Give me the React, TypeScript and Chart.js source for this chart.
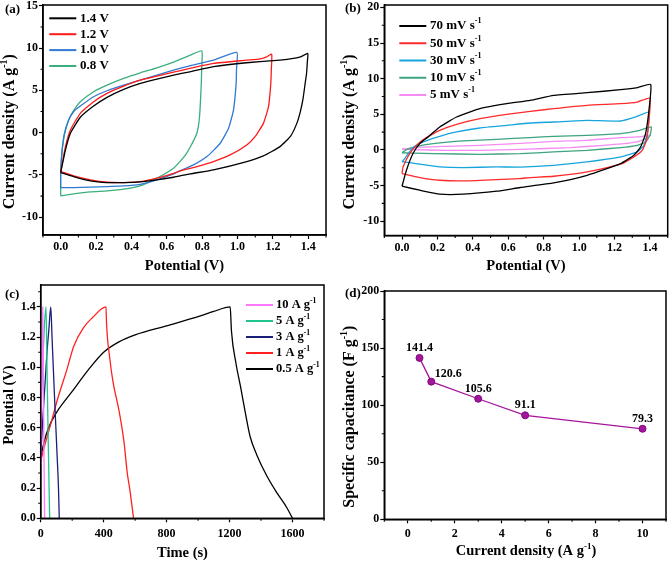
import React, { useEffect, useRef } from "react";
import { Chart, registerables } from "chart.js";

Chart.register(...registerables);

const FONT = '"Liberation Serif", "Times New Roman", Times, serif';

// ---------------- (a) CV at different potential windows ----------------
const cvA_14V: number[][] = [
  [0, -4.72], [0.027, -2.04], [0.055, -0.07], [0.111, 1.82], [0.186, 3.15], [0.262, 4.18],
  [0.356, 5.12], [0.45, 5.83], [0.544, 6.34], [0.638, 6.81], [0.73, 7.2], [0.864, 7.8],
  [1.05, 8.27], [1.24, 8.58], [1.316, 8.78], [1.36, 9.0], [1.397, 9.37],
  [1.395, 8.5], [1.39, 7.0], [1.382, 5.8], [1.37, 4.0], [1.355, 2.5], [1.335, 1.1], [1.3, -0.4],
  [1.24, -1.65], [1.146, -2.75], [1.052, -3.42], [0.864, -4.4], [0.732, -4.87], [0.638, -5.27],
  [0.544, -5.58], [0.45, -5.82], [0.356, -5.9], [0.262, -5.9], [0.168, -5.7], [0.073, -5.19], [0, -4.72],
];
const cvA_12V: number[][] = [
  [0, -4.6], [0.027, -1.65], [0.055, 0.32], [0.111, 2.29], [0.186, 3.66], [0.262, 4.65],
  [0.356, 5.51], [0.45, 6.22], [0.544, 6.7], [0.638, 7.15], [0.73, 7.6], [0.864, 8.19],
  [1.05, 8.58], [1.128, 8.74], [1.165, 8.97], [1.193, 9.29],
  [1.191, 7.5], [1.188, 5.83], [1.175, 3.07], [1.146, 1.1], [1.099, -0.47], [1.052, -1.45],
  [0.958, -2.63], [0.864, -3.42], [0.77, -4.01], [0.676, -4.52], [0.638, -4.8], [0.544, -5.38],
  [0.45, -5.8], [0.356, -5.9], [0.262, -5.86], [0.168, -5.58], [0.073, -5.11], [0, -4.6],
];
const cvA_10V: number[][] = [
  [0, -6.49], [0, -4.72], [0.008, -2.04], [0.021, -0.07], [0.045, 1.5], [0.073, 2.48], [0.111, 3.15],
  [0.186, 4.25], [0.262, 4.96], [0.356, 5.63], [0.45, 6.22], [0.544, 6.81], [0.638, 7.4],
  [0.73, 7.9], [0.864, 8.58], [0.996, 9.49],
  [0.994, 7.5], [0.992, 5.83], [0.977, 2.68], [0.949, 0.52], [0.902, -1.25], [0.827, -2.83],
  [0.751, -3.81], [0.676, -4.48], [0.638, -4.87], [0.544, -5.58], [0.45, -6.1], [0.356, -6.3],
  [0.262, -6.37], [0.168, -6.45], [0.073, -6.49], [0, -6.49],
];
const cvA_08V: number[][] = [
  [0, -7.47], [0, -4.72], [0.008, -2.2], [0.021, -0.3], [0.045, 1.5], [0.073, 2.6], [0.111, 3.66],
  [0.186, 4.84], [0.262, 5.63], [0.356, 6.42], [0.45, 7.08], [0.544, 7.67], [0.638, 8.35],
  [0.73, 9.15], [0.798, 9.68],
  [0.797, 7.5], [0.795, 5.83], [0.785, 1.89], [0.77, -0.07], [0.74, -1.4], [0.71, -2.5],
  [0.675, -3.4], [0.638, -4.2], [0.544, -5.38], [0.45, -6.29], [0.356, -6.68], [0.262, -6.88],
  [0.168, -7.0], [0.073, -7.24], [0, -7.47],
];
const legendA = ["1.4 V", "1.2 V", "1.0 V", "0.8 V"];
const aXTicks = [0, 0.2, 0.4, 0.6, 0.8, 1.0, 1.2, 1.4];
const aXMinor = [-0.1, 0.1, 0.3, 0.5, 0.7, 0.9, 1.1, 1.3, 1.5];
const aYTicks = [-10, -5, 0, 5, 10, 15];
const aYMinor = [-7.5, -2.5, 2.5, 7.5, 12.5];

// ---------------- (b) CV at different scan rates ----------------
const cvB_70: number[][] = [
  [0, -5.09], [0.025, -2.85], [0.062, -0.51], [0.1, 0.89], [0.147, 1.82], [0.213, 3.22],
  [0.308, 4.62], [0.44, 5.79], [0.591, 6.49], [0.724, 6.95], [0.856, 7.65], [1.045, 8.03],
  [1.234, 8.45], [1.33, 8.75], [1.404, 9.19],
  [1.394, 5.55], [1.375, 2.29], [1.347, 0.42], [1.309, -0.75], [1.234, -1.91], [1.045, -3.55],
  [0.856, -4.62], [0.667, -5.27], [0.535, -5.79], [0.346, -6.2], [0.213, -6.2], [0.1, -5.65], [0, -5.09],
];
const cvB_50: number[][] = [
  [0, -3.31], [0.006, -2.38], [0.043, -0.51], [0.091, 0.89], [0.138, 1.73], [0.213, 2.75],
  [0.308, 3.59], [0.44, 4.39], [0.591, 4.99], [0.724, 5.41], [0.856, 5.79], [1.045, 6.25],
  [1.234, 6.49], [1.328, 6.72], [1.4, 7.28],
  [1.394, 4.15], [1.38, 1.35], [1.356, -0.05], [1.309, -0.98], [1.234, -2.0], [1.045, -3.08],
  [0.856, -3.69], [0.724, -3.87], [0.667, -4.01], [0.535, -4.15], [0.346, -4.34], [0.213, -4.25],
  [0.1, -3.87], [0, -3.31],
];
const cvB_30: number[][] = [
  [0, -1.68], [0.015, -1.21], [0.062, 0.33], [0.119, 1.12], [0.213, 1.91], [0.308, 2.52],
  [0.44, 3.08], [0.591, 3.45], [0.724, 3.78], [0.856, 3.92], [1.045, 4.15], [1.234, 4.06],
  [1.328, 4.71], [1.394, 5.32],
  [1.388, 2.75], [1.366, 0.65], [1.328, -0.28], [1.234, -0.98], [1.045, -1.68], [0.856, -2.15],
  [0.667, -2.4], [0.535, -2.38], [0.346, -2.47], [0.213, -2.38], [0.1, -2.0], [0.015, -1.68], [0, -1.68],
];
const cvB_10: number[][] = [
  [0, -0.4], [0.025, 0.05], [0.081, 0.51], [0.176, 0.89], [0.346, 1.26], [0.535, 1.49],
  [0.724, 1.73], [0.856, 1.91], [1.045, 2.05], [1.234, 2.29], [1.328, 2.66], [1.407, 3.22],
  [1.4, 2.05], [1.375, 1.12], [1.328, 0.65], [1.234, 0.33], [1.045, -0.05], [0.856, -0.28],
  [0.667, -0.51], [0.44, -0.61], [0.18, -0.51], [0.062, -0.45], [0, -0.4],
];
const cvB_5: number[][] = [
  [0, 0.05], [0.062, 0.33], [0.251, 0.51], [0.44, 0.65], [0.724, 1.0], [0.856, 1.21],
  [1.045, 1.35], [1.234, 1.73], [1.328, 1.82], [1.4, 2.05],
  [1.366, 1.45], [1.29, 0.98], [1.139, 0.65], [0.95, 0.33], [0.667, 0.09], [0.44, -0.05],
  [0.251, -0.05], [0.062, 0.05], [0, 0.19],
];
const legendB = ["70 mV s^-1", "50 mV s^-1", "30 mV s^-1", "10 mV s^-1", "5 mV s^-1"];
const bXTicks = [0, 0.2, 0.4, 0.6, 0.8, 1.0, 1.2, 1.4];
const bXMinor = [-0.1, 0.1, 0.3, 0.5, 0.7, 0.9, 1.1, 1.3, 1.5];
const bYTicks = [-10, -5, 0, 5, 10, 15, 20];
const bYMinor = [-7.5, -2.5, 2.5, 7.5, 12.5, 17.5];

// ---------------- (c) GCD curves ----------------
const gcd10: number[][] = [[0, 0.35], [5, 0.8], [9, 1.15], [13, 1.4], [17, 0.9], [21, 0.4], [25, 0]];
const gcd5: number[][] = [[0, 0.65], [8, 0.9], [18, 1.15], [25, 1.3], [34, 1.4], [40, 1.0], [48, 0.5], [57, 0]];
const gcd3: number[][] = [
  [0, 0.4], [10, 0.6], [25, 0.85], [40, 1.1], [52, 1.25], [64, 1.4], [72, 1.2], [90, 0.75],
  [105, 0.4], [113, 0.2], [118, 0],
];
const gcd1: number[][] = [
  [0, 0.38], [30, 0.5], [60, 0.61], [110, 0.8], [165, 0.98], [210, 1.14], [270, 1.26],
  [330, 1.33], [415, 1.4], [418, 1.3], [440, 1.05], [460, 0.9], [500, 0.7], [530, 0.5],
  [550, 0.3], [565, 0.2], [590, 0],
];
const gcd05: number[][] = [
  [0, 0.4], [20, 0.5], [50, 0.6], [100, 0.7], [200, 0.84], [300, 0.98], [400, 1.1], [500, 1.17],
  [600, 1.215], [800, 1.275], [1000, 1.335], [1100, 1.37], [1204, 1.4], [1212, 1.24], [1240, 1.03],
  [1270, 0.87], [1300, 0.7], [1331, 0.54], [1373, 0.42], [1437, 0.28], [1500, 0.17], [1564, 0.07], [1600, 0],
];
const legendC = ["10 A g^-1", "5 A g^-1", "3 A g^-1", "1 A g^-1", "0.5 A g^-1"];
const cXTicks = [0, 400, 800, 1200, 1600];
const cXMinor = [200, 600, 1000, 1400, 1800];
const cYTicks = [0, 0.2, 0.4, 0.6, 0.8, 1.0, 1.2, 1.4];
const cYMinor = [0.1, 0.3, 0.5, 0.7, 0.9, 1.1, 1.3, 1.5];

// ---------------- (d) specific capacitance ----------------
const currentDensity = [0.5, 1, 3, 5, 10];
const capacitance = [141.4, 120.6, 105.6, 91.1, 79.3];
const dXTicks = [0, 2, 4, 6, 8, 10];
const dXMinor = [-1, 1, 3, 5, 7, 9, 11];
const dYTicks = [0, 50, 100, 150, 200];
const dYMinor = [25, 75, 125, 175];

// ---------------- helpers ----------------
function drawRich(ctx: CanvasRenderingContext2D, text: string, x: number, y: number, size: number, align: string) {
  const parts = text.split("^");
  const sup = size * 0.62;
  const fonts = parts.map((_, i) => `bold ${i % 2 ? sup : size}px ${FONT}`);
  const widths = parts.map((p, i) => {
    ctx.font = fonts[i];
    return ctx.measureText(p).width;
  });
  const total = widths.reduce((a, b) => a + b, 0);
  let cx = align === "center" ? x - total / 2 : x;
  ctx.textAlign = "left";
  ctx.textBaseline = "middle";
  ctx.fillStyle = "#000";
  parts.forEach((p, i) => {
    ctx.font = fonts[i];
    ctx.fillText(p, cx, i % 2 ? y - size * 0.36 : y);
    cx += widths[i];
  });
}

const toPts = (arr: number[][]) => arr.map(([x, y]) => ({ x, y }));

const decorPlugin = {
  id: "decor",
  afterDraw(chart: any) {
    const spec = chart.options.plugins.decor.spec;
    const ctx: CanvasRenderingContext2D = chart.ctx;
    const a = chart.chartArea;
    const xs = chart.scales.x;
    const ys = chart.scales.y;
    ctx.save();
    ctx.strokeStyle = "#000";
    ctx.lineWidth = 1.5;
    ctx.strokeRect(a.left, a.top, a.right - a.left, a.bottom - a.top);
    ctx.lineWidth = 1.1;
    ctx.beginPath();
    spec.x.minor.forEach((v: number) => {
      const p = xs.getPixelForValue(v);
      ctx.moveTo(p, a.bottom);
      ctx.lineTo(p, a.bottom + 2.5);
    });
    spec.y.minor.forEach((v: number) => {
      const p = ys.getPixelForValue(v);
      ctx.moveTo(a.left, p);
      ctx.lineTo(a.left - 2.5, p);
    });
    ctx.stroke();
    drawRich(ctx, spec.xTitle.text, spec.xTitle.x, spec.xTitle.y, spec.xTitle.size, "center");
    ctx.save();
    ctx.translate(spec.yTitle.x, spec.yTitle.y);
    ctx.rotate(-Math.PI / 2);
    drawRich(ctx, spec.yTitle.text, 0, 0, spec.yTitle.size, "center");
    ctx.restore();
    drawRich(ctx, spec.letter.text, spec.letter.x, spec.letter.y, 13, "left");
    if (spec.legend) {
      const L = spec.legend;
      spec.legend.order.forEach((di: number, row: number) => {
        const ds = chart.data.datasets[di];
        const y = L.y + row * L.dy;
        ctx.strokeStyle = ds.borderColor;
        ctx.lineWidth = 2;
        ctx.beginPath();
        ctx.moveTo(L.x, y);
        ctx.lineTo(L.x + L.len, y);
        ctx.stroke();
        drawRich(ctx, ds.label, L.textX, y, L.size || 13, "left");
      });
    }
    if (spec.pointLabels) {
      const meta = chart.getDatasetMeta(0);
      meta.data.forEach((el: any, i: number) => {
        const v = chart.data.datasets[0].data[i].y;
        const shift = i === 1 ? 17 : 0;
        drawRich(ctx, v.toFixed(1), el.x + shift, el.y - (i === 1 ? 8 : 10), 12, "center");
      });
    }
    ctx.restore();
  },
};

function axisOpts(ax: any, isX: boolean, size: number) {
  return {
    type: "linear",
    min: ax.min,
    max: ax.max,
    afterBuildTicks: (s: any) => {
      s.ticks = ax.ticks.map((v: number) => ({ value: v }));
    },
    afterFit: (s: any) => {
      if (isX) s.height = size;
      else s.width = size;
      s.paddingTop = 0;
      s.paddingBottom = 0;
      s.paddingLeft = 0;
      s.paddingRight = 0;
    },
    ticks: {
      autoSkip: false,
      maxRotation: 0,
      minRotation: 0,
      padding: ax.pad,
      color: "#000",
      font: { family: FONT, size: 12, weight: "bold" },
      callback: (v: number) => ax.fmt(v),
    },
    grid: {
      display: true,
      drawOnChartArea: false,
      drawTicks: true,
      tickLength: 4,
      tickWidth: 1.2,
      tickColor: "#000",
      color: "#000",
    },
    border: { display: true, color: "#000", width: 1.5 },
  };
}

function buildConfig(spec: any) {
  const A = spec.area;
  return {
    type: "scatter",
    data: {
      datasets: spec.series.map((s: any) => ({
        label: s.label,
        data: s.data,
        borderColor: s.color,
        backgroundColor: s.color,
        showLine: true,
        borderWidth: s.width || 1.3,
        pointRadius: s.pointRadius || 0,
        pointBackgroundColor: s.color,
        pointBorderColor: s.pointBorder || s.color,
        pointBorderWidth: 1,
        tension: spec.tension || 0,
        cubicInterpolationMode: spec.monotone ? "monotone" : "default",
      })),
    },
    options: {
      responsive: false,
      animation: false,
      devicePixelRatio: 1,
      events: [],
      layout: { padding: { left: 0, top: A.t, right: spec.w - A.r, bottom: 0 } },
      plugins: { legend: { display: false }, tooltip: { enabled: false }, decor: { spec } },
      scales: {
        x: axisOpts(spec.x, true, spec.h - A.b),
        y: axisOpts(spec.y, false, A.l),
      },
    },
    plugins: [decorPlugin],
  };
}

const f1 = (v: number) => v.toFixed(1);
const f0 = (v: number) => String(v);

const specA = {
  left: 0, top: 0, w: 335, h: 280,
  area: { l: 43, t: 5, r: 326, b: 235 },
  tension: 0.15,
  x: { min: -0.1, max: 1.5, ticks: aXTicks, minor: aXMinor, fmt: f1, pad: 1 },
  y: { min: -12.1, max: 15.1, ticks: aYTicks, minor: aYMinor, fmt: f0, pad: 1 },
  series: [
    { label: legendA[0], data: toPts(cvA_14V), color: "#000000" },
    { label: legendA[1], data: toPts(cvA_12V), color: "#ff1a1a" },
    { label: legendA[2], data: toPts(cvA_10V), color: "#2f7ad0" },
    { label: legendA[3], data: toPts(cvA_08V), color: "#3cae7c" },
  ],
  legend: { x: 49.3, len: 27, textX: 80, y: 18.3, dy: 15.9, order: [0, 1, 2, 3] },
  xTitle: { text: "Potential (V)", x: 184.5, y: 266.7, size: 14.5 },
  yTitle: { text: "Current density (A g^-1^)", x: 10, y: 131.7, size: 16 },
  letter: { text: "(a)", x: 5, y: 10 },
};

const specB = {
  left: 335, top: 0, w: 336, h: 280,
  area: { l: 49.3, t: 5, r: 332.7, b: 235.5 },
  tension: 0.15,
  x: { min: -0.1, max: 1.5, ticks: bXTicks, minor: bXMinor, fmt: f1, pad: 1 },
  y: { min: -12, max: 20.33, ticks: bYTicks, minor: bYMinor, fmt: f0, pad: 1 },
  series: [
    { label: legendB[0], data: toPts(cvB_70), color: "#000000" },
    { label: legendB[1], data: toPts(cvB_50), color: "#ff2a2a" },
    { label: legendB[2], data: toPts(cvB_30), color: "#16a4dc" },
    { label: legendB[3], data: toPts(cvB_10), color: "#3ea380" },
    { label: legendB[4], data: toPts(cvB_5), color: "#f58cf5" },
  ],
  legend: { x: 64.3, len: 27, textX: 95, y: 26, dy: 17.25, order: [0, 1, 2, 3, 4] },
  xTitle: { text: "Potential (V)", x: 191, y: 266.7, size: 14.5 },
  yTitle: { text: "Current density (A g^-1^)", x: 15, y: 132, size: 16 },
  letter: { text: "(b)", x: 10, y: 8.3 },
};

const specC = {
  left: 0, top: 280, w: 335, h: 282,
  area: { l: 40.7, t: 5, r: 324, b: 238.3 },
  monotone: true,
  x: { min: 0, max: 1800, ticks: cXTicks, minor: cXMinor, fmt: f0, pad: 4 },
  y: { min: 0, max: 1.545, ticks: cYTicks, minor: cYMinor, fmt: f1, pad: 1 },
  series: [
    { label: legendC[0], data: toPts(gcd10), color: "#ff77ff" },
    { label: legendC[1], data: toPts(gcd5), color: "#22c48e" },
    { label: legendC[2], data: toPts(gcd3), color: "#1c1f78" },
    { label: legendC[3], data: toPts(gcd1), color: "#ff2020" },
    { label: legendC[4], data: toPts(gcd05), color: "#000000" },
  ],
  legend: { x: 246, len: 27, textX: 276, y: 25, dy: 16, order: [0, 1, 2, 3, 4], size: 12.5 },
  xTitle: { text: "Time (s)", x: 182.5, y: 273.3, size: 14.5 },
  yTitle: { text: "Potential (V)", x: 9.3, y: 125, size: 14.5 },
  letter: { text: "(c)", x: 5, y: 15 },
};

const specD = {
  left: 335, top: 280, w: 336, h: 282,
  area: { l: 49.3, t: 11, r: 332.7, b: 239.3 },
  x: { min: -1, max: 11, ticks: dXTicks, minor: dXMinor, fmt: f0, pad: 3 },
  y: { min: 0, max: 200, ticks: dYTicks, minor: dYMinor, fmt: f0, pad: 1 },
  series: [
    {
      label: "Specific capacitance",
      data: currentDensity.map((x, i) => ({ x, y: capacitance[i] })),
      color: "#a5169f",
      pointRadius: 3.5,
      pointBorder: "#7a0a78",
    },
  ],
  pointLabels: true,
  xTitle: { text: "Current density (A g^-1^)", x: 191, y: 271.7, size: 14.5 },
  yTitle: { text: "Specific capacitance (F g^-1^)", x: 15, y: 136.7, size: 16 },
  letter: { text: "(d)", x: 10, y: 14 },
};

function Panel({ spec }: { spec: any }) {
  const ref = useRef<HTMLCanvasElement>(null);
  useEffect(() => {
    const chart = new Chart(ref.current as HTMLCanvasElement, buildConfig(spec) as any);
    return () => chart.destroy();
  }, [spec]);
  return (
    <canvas
      ref={ref}
      width={spec.w}
      height={spec.h}
      style={{ position: "absolute", left: spec.left, top: spec.top, width: spec.w, height: spec.h, display: "block" }}
    />
  );
}

export default function App() {
  return (
    <div style={{ position: "absolute", left: 0, top: 0, width: 671, height: 562, background: "#fff", overflow: "hidden" }}>
      <Panel spec={specA} />
      <Panel spec={specB} />
      <Panel spec={specC} />
      <Panel spec={specD} />
    </div>
  );
}
